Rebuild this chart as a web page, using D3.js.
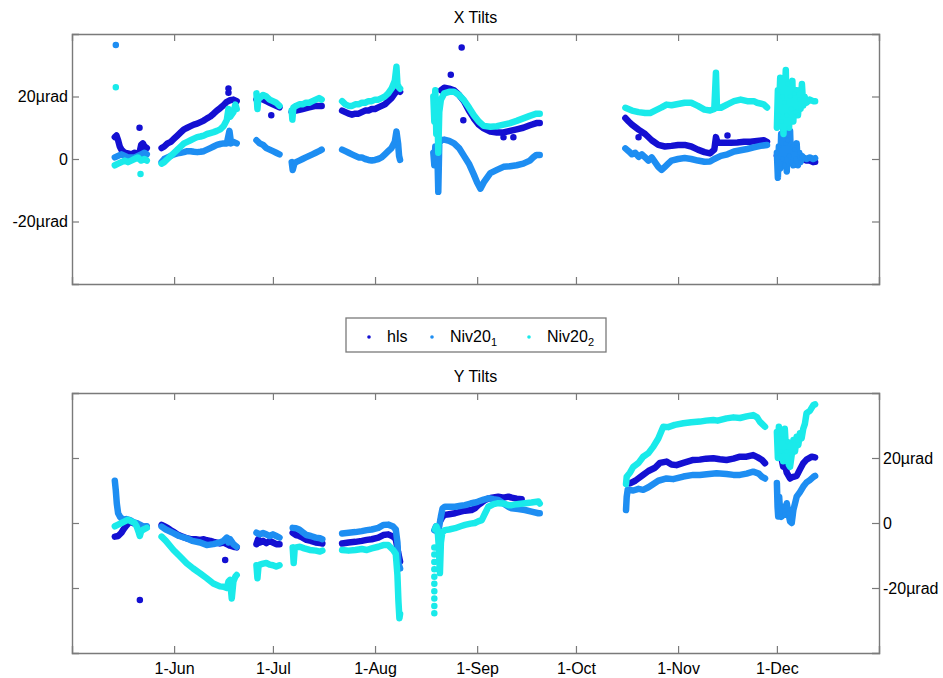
<!DOCTYPE html>
<html>
<head>
<meta charset="utf-8">
<script src="https://cdn.jsdelivr.net/npm/d3@7"></script>
<style>
  body { margin: 0; background: #fff; }
  svg text { font-family: "Liberation Sans", Arial, sans-serif; fill: #000; }
</style>
</head>
<body>
<div id="chart"></div>
<script>
// samples are [days since 1 May, tilt in µrad]; null breaks a run
// ---------- X tilts ----------
let xHls = [
  [13,7],[13.5,7.5],[14,6],[14.5,4],[15,3],[16,2],[17,1.8],[18,1.5],[19,2],[20,1.5],[20.5,2],[21,4.5],[21.5,5],[22,4],[22.7,3.5], null,
  [20.5,10], null,
  [27.2,3.5],[28,4],[29,5],[30,5.5],[31,6.5],[32,7.5],[33,8.5],[34,9.5],[35,10],[36,10.5],[37,11],[38,11.3],[39,11.8],[40,12.3],[41,13],[42,13.6],[43,14.5],[44,15.5],[45,16.3],[46,17.2],[47,18.3],[48,18.8],[49,19],[50,18.5], null,
  [47.5,22.6], null, [47.5,21.2], null,
  [56,19],[57,19.5],[58,19],[59,18.5],[60,18],[61,17.5],[62,17],[63,16.5], null,
  [60.5,14], null,
  [66.7,15],[68,15.5],[70,16],[72,16.5],[74,17],[75.8,17], null,
  [82,15.5],[83,15],[84,14.5],[85,14.2],[86,14.5],[87,14.5],[88,15],[89,15.5],[90,15.5],[91,16],[92,16],[93,16.5],[94,17],[95,17.5],[96,18.5],[97,19.5],[98,21],[99,22],[99.6,21.5], null,
  [112,22],[113,22.8],[114.5,22.5],[116,22],[117.5,20.5],[119,18.5],[120.5,15.5],[122,13],[123.5,11],[125,9.8],[127,8.8],[129,8.5],[131,8.5],[133,9],[135,9.5],[137,10],[139,10.8],[141,11.5],[142,11.5], null,
  [115,27], null, [118.3,35.7], null, [118.8,12.4], null, [131,7], null, [134,7], null,
  [168,13.1],[169,12],[170,11],[172,9.4],[174,8],[176,6],[178,4.5],[180,4],[182,4.2],[184,4.5],[186,4.5],[188,4],[190,3],[192,2.2],[193.7,1.8],[195,3],[195.5,7],[196,5.2],[198,5.2],[200,5.2],[202,5.3],[204,5.5],[206,5.5],[208,5.8],[210,6],[211,5.5], null,
  [172,7], null, [199,7.5], null,
  [214,1],[216,2],[218,1],[220,0],[222,0],[223,-0.5],[224,-0.5],[225,-1],[225.6,-0.9]
];
let xNiv1 = [
  [13,0.5],[14,1],[15,1.5],[16,1],[17,0.5],[18,0.5],[19,0.5],[20,1],[21,1.5],[22,2],[22.7,1.5], null,
  [13.3,36.5], null,
  [27.2,-1],[28,0],[29,0.5],[30,1],[31,1.5],[32,1.8],[33,2],[34,2.2],[35,2.5],[36,2.5],[37,2.3],[38,2.2],[39,2.3],[40,2.5],[41,3],[42,3.5],[43,4],[44,4.5],[45,4.8],[46,5],[47,5],[47.8,9],[48.3,5],[49,5.5],[50,5], null,
  [56,6],[57,5],[58,4.5],[59,3.5],[60,3],[61,2.5],[62,2],[63,1.5], null,
  [66.7,-1],[67,-3.5],[67.5,-1.5],[68,-1],[69,-0.5],[70,0],[71,0.5],[72,1],[73,1.5],[74,2],[75,2.5],[75.8,3], null,
  [82,3],[83,2.5],[84,2],[85,1.5],[86,1],[87,0.5],[88,0.5],[89,0],[90,-0.3],[91,-0.5],[92,-0.3],[93,0],[94,0.5],[95,1.5],[96,2.5],[97,3.5],[98,5.5],[98.5,8.8],[99,5],[99.3,1],[99.6,-0.3], null,
  [109.7,2],[110,-2],[110.3,4],[110.6,-1],[110.9,3],[111.2,-10.5],[111.5,5],[112,6],[113,6.2],[114.5,5.8],[116,5],[117.5,3.5],[119,1],[120.5,-1.5],[122,-5],[123,-7.5],[124,-9.5],[125,-7.5],[127,-4.5],[129,-3.5],[131,-2.5],[133,-2.3],[135,-2],[137,-1.5],[139,-0.5],[140,0.5],[141,1.3],[142,1.3], null,
  [168,3.4],[169,2.5],[170,1.5],[171,2],[172,0.7],[173,1.5],[174,0.5],[175,-0.5],[176,0.5],[177,-1],[178,-2.5],[179,-3.5],[180,-2.5],[181,-1.5],[182,-0.5],[184,0],[186,0.3],[188,0],[190,-0.5],[192,-0.9],[193.7,-0.8],[195,0],[197,1],[199,1.5],[201,2.4],[203,2.8],[205,3.2],[207,3.7],[209,4.2],[211,4.5], null,
  [214,2],[214.3,-6],[214.6,4],[215,-3],[215.3,8],[215.6,0],[216,11],[216.3,-2],[216.7,5],[217,-4],[217.3,6],[217.7,1],[218,9],[218.3,-1],[218.7,4],[219,-2],[219.3,3],[219.7,0],[220,5],[220.4,-2],[220.8,2],[221.2,-1],[221.6,1],[222,0.5],[223,0],[224,0.5],[225,0],[225.6,0.3]
];
let xNiv2 = [
  [13,-2],[14,-1.5],[15,-1],[16,-0.5],[17,-1],[18,-0.5],[19,0],[20,0.5],[21,-0.5],[22,0],[22.7,-0.5], null,
  [13.3,23], null, [20.8,-4.8], null,
  [27.2,-1.5],[28,-1],[29,0],[30,1],[31,2],[32,3],[33,4],[34,5],[35,5.5],[36,6],[37,6.5],[38,7],[39,7.2],[40,7.5],[41,8],[42,8.3],[43,8.6],[44,9],[45,9.5],[46,10.5],[47,12.5],[47.5,16],[48,13.5],[49,15],[49.6,17.4],[50,16], null,
  [56,21],[56.3,16],[56.6,20],[57,19.5],[58,20.5],[59,20],[60,19],[61,18.5],[62,18],[63,17], null,
  [66.7,15.5],[66.9,12.6],[67.2,16.5],[68,17],[69,17.5],[70,17.5],[71,18],[72,18],[73,18.5],[74,19],[75,19.5],[75.8,19], null,
  [82,18.5],[83,17.5],[84,17],[85,17],[86,17.5],[87,17.5],[88,18],[89,18],[90,18.5],[91,18.5],[92,19],[93,19],[94,19.5],[95,20],[96,21],[97,22.5],[98,25],[98.5,29.5],[98.8,24],[99.2,23],[99.6,22.5], null,
  [109.7,20],[110,12],[110.3,22],[110.6,8],[110.9,18],[111.2,2],[111.5,15],[112,19],[113,21],[114.5,21.5],[116,21.5],[117.5,20.5],[119,18.8],[120.5,16.5],[122,14],[123.5,12],[125,10.6],[127,10.3],[129,10.5],[131,11],[133,11.5],[135,12.2],[137,13],[139,13.8],[141,14.5],[142,14.5], null,
  [168,16.4],[170,15.5],[172,15],[174,14.7],[175.5,14.7],[177,15.5],[179,16.5],[180.5,17.4],[182,17.2],[184,17.6],[186,18],[188,18],[190,17],[192,15.8],[193.7,15.5],[195,16],[195.5,27.6],[195.8,16.5],[197,16.4],[199,17.5],[201,18.5],[203,19],[205,18.5],[207,18.5],[208,18],[210,17.5],[211,16.5], null,
  [214,10],[214.3,22],[214.6,14],[215,26],[215.3,12],[215.6,20],[216,8],[216.3,18],[216.7,28.5],[217,14],[217.3,24],[217.7,10],[218,20],[218.3,16],[218.7,25],[219,12],[219.3,21],[219.7,15],[220,22],[220.4,14],[220.8,19],[221.2,16],[221.6,24],[222,17],[222.4,20],[223,18],[224,19],[225,18.5],[225.6,18.5]
];

// ---------- Y tilts ----------
let yHls = [
  [13,-4.2],[14,-4],[15,-3],[15.6,-2],[16.5,-0.8],[17.6,0.5],[18.6,0],[19.6,-0.5],[20.6,-0.8],[21.7,-1.1],[22.7,-1.3], null,
  [20.6,-23.7], null,
  [27.2,-0.6],[28,-1],[29,-1.5],[30,-2.2],[30.8,-2.7],[32,-3.5],[33.5,-4.2],[34.8,-4.7],[36,-5],[37.5,-5],[38.9,-5.2],[40,-5],[40.9,-5.3],[42,-5.5],[43,-5.8],[44.9,-6.3],[46,-6],[47,-6.5],[48,-7],[49,-7.3],[50,-7.5], null,
  [46.5,-11.4], null,
  [56,-6.5],[56.5,-5],[57,-6],[58,-5.5],[59,-6.2],[60,-5.5],[61,-6],[62,-6.5],[63,-6.5], null,
  [67,-3],[68,-3.7],[69,-4],[70,-4.5],[71.2,-5.2],[72.5,-5.5],[74,-6],[75.3,-6.2],[76,-6.3], null,
  [82,-6.3],[84,-6],[86,-5.8],[88,-5.5],[89.5,-5.2],[91,-5],[93,-4.5],[94.5,-3.7],[96,-3.5],[97.5,-4.2],[98.3,-5],[99,-9],[99.6,-11.9], null,
  [112,1],[112.5,2],[113.2,2.5],[114.5,2.7],[116.3,3],[118,3.5],[119.3,3.8],[121.3,4],[122.3,4.5],[123.3,5.5],[124.4,6.3],[125.4,7.1],[126.4,7.5],[127.5,7.8],[129.4,8.1],[131,7.8],[132.5,8.1],[133.5,7.8],[135,7.5],[136.5,7.3], null,
  [169.4,12.2],[171,13],[173.4,14.8],[175,16],[177,17],[178.5,18.5],[180.5,18.9],[182,18],[183.5,17.8],[185.6,18.5],[188.6,19.4],[190.6,19.5],[192.5,19.8],[194.7,19.9],[196.7,19.6],[198.7,19.4],[200.8,19.8],[202.8,20.4],[204.8,20.4],[206.8,20.9],[208.2,20.2],[209.5,19.4],[210.4,18.4], null,
  [215.4,20],[215.9,17.3],[216.4,18],[217,15.5],[218,13.7],[218.5,14],[219,14.2],[220,14.5],[221,16.5],[222,18.4],[223,19.5],[224.6,20.4],[225.6,20.2]
];
let yNiv1 = [
  [13,13],[13.3,10],[13.6,6],[14,3],[14.6,1.9],[15.6,0.9],[16.5,1.2],[17.6,0.9],[18.6,0.3],[19.6,0],[20.6,-0.5],[21.7,-1.1],[22.7,-1], null,
  [27.2,-1.1],[28.5,-2],[30.8,-3.1],[32.5,-4],[34.8,-4.7],[36.5,-5.5],[38.9,-6],[40.9,-6.8],[42.9,-6.5],[44.9,-6],[46,-5.5],[47,-4.5],[47.5,-6],[48,-5],[49,-6.5],[50,-7.3], null,
  [56,-3],[57,-3.5],[58,-3.1],[59,-3.5],[60,-4],[61,-3.5],[62,-4],[63,-4.5], null,
  [67,-1.5],[68,-1.6],[69,-2],[70,-2.8],[71.2,-3.7],[72.5,-4],[74,-4.5],[75.3,-4.7],[76,-5], null,
  [82,-3.2],[84,-3],[86,-2.8],[88,-2.5],[89.5,-2.2],[91,-2],[93,-1.5],[94.5,-0.6],[96,-0.5],[97.5,-1.1],[98.3,-2],[98.8,-6],[99.1,-12.4],[99.6,-14], null,
  [110,-2.2],[110.5,-1],[111,-3],[111.5,-1],[112,2],[112.5,4.5],[113.2,5],[114.5,5],[116.3,5],[118,5.3],[119.3,5.5],[121,6],[122.3,6.3],[123.3,6.6],[125,7.2],[126.4,7.6],[128,7.3],[129.4,7.1],[131,6],[132.5,5],[133.5,4.5],[135.5,4.3],[137.5,4],[139.5,3.5],[141.6,3],[142,3], null,
  [168.2,4],[168.4,8],[168.7,10.2],[170.4,10],[172,10.5],[173.4,10.2],[175,11],[176.5,12],[178,13],[180.5,13.7],[182.5,13.5],[185.6,14.3],[188.6,14.8],[190.6,14.8],[192.7,15],[195.7,15.3],[198.7,15.1],[200.8,14.8],[202.8,14.8],[204.8,15.2],[206.8,15.8],[208.5,15.2],[209.5,14.2],[210.4,13.7], null,
  [214,12.3],[214.2,5],[214.4,2],[214.7,8],[215,3],[215.4,1.9],[215.9,5],[216.4,2.5],[217,6.1],[217.5,3],[218,0.5],[218.5,0],[219,4],[219.5,6],[220,8.1],[221,9.5],[222,11.2],[223,12.5],[224,13.2],[225.1,14.2],[225.6,14.5]
];
let yNiv2 = [
  [13,-1],[14,-0.5],[15,0],[16,0.5],[17,1],[18,0.5],[19,0],[19.6,-1],[20.3,-3],[20.6,-4],[21,-2.5],[21.7,-2],[22.7,-1.5], null,
  [27.2,-4.2],[28.5,-5.5],[30.8,-8.3],[32.5,-10],[34.8,-12.4],[36.8,-14],[38.9,-15.5],[40.9,-17],[42.9,-18.6],[44.9,-19.5],[46,-19.6],[47,-20],[47.5,-18],[48,-17.5],[48.5,-23.2],[49,-18],[49.6,-16.5],[50,-16], null,
  [56,-13],[56.3,-17],[56.6,-13.5],[57,-12.8],[58,-12.5],[59,-12.3],[60,-12.8],[61,-13],[62,-13.4],[63,-13], null,
  [67,-7.5],[67.3,-12.3],[67.6,-8],[68,-7.5],[69.2,-7.3],[70.5,-7.8],[72.2,-8.3],[74,-8.5],[75.3,-8.8],[76,-8.5], null,
  [82,-8.3],[84,-8.5],[86,-8.3],[88,-8],[89.5,-8.3],[91,-7.8],[93,-7.3],[94.5,-6.8],[96,-6.8],[97.5,-8.3],[98.3,-9.5],[98.8,-16],[99.1,-24],[99.4,-29.3],[99.6,-28], null,
  [110,-27.8], null, [110,-25.5], null, [110,-23.2], null, [110,-21], null, [110,-18.7], null, [110,-16.5], null,
  [110,-14.2], null, [110,-12], null, [110,-9.7], null, [110,-7.5], null,
  [110.2,-2],[110.6,-1],[111,-2],[111.4,-8],[111.7,-15.4],[112,-6],[112.4,-3],[113.2,-2.2],[114.5,-2],[116.3,-1.6],[118,-1],[119.3,-0.6],[121,-0.2],[122.3,0],[123.3,0.5],[124.4,0.9],[125.4,3],[126.4,5],[128,5.8],[129.4,6.1],[131,6],[132.5,5.5],[133.5,5.5],[135,5.8],[137.5,6.1],[139.5,6.3],[141.6,6.6],[142,6], null,
  [168.2,12],[168.4,14.2],[169.4,15.5],[170.4,17.3],[172,18.5],[173.4,20.4],[175,21.5],[176.5,23.5],[178,26],[179.5,29.6],[181,29.5],[183,30.2],[185.6,30.7],[188,31],[190.6,31.2],[192.5,31.5],[194.7,31.7],[196,31.5],[198.7,32.2],[200.8,32.5],[202.8,32.3],[204.8,32.8],[206.8,33.2],[208,32.5],[208.8,31.2],[209.5,30.5],[210.4,29.6], null,
  [214,28],[214.3,20],[214.6,29.6],[215,22],[215.4,26],[215.9,19],[216.4,29],[216.8,22],[217.2,25],[217.6,18],[218,17.3],[218.5,21],[219,25.5],[219.5,22],[220,26.5],[220.5,24],[221,27.6],[221.5,26],[222,29],[222.5,30.5],[223,33.8],[224,34.5],[224.6,35.5],[225.1,36.3],[225.6,36.5]
];

let seriesNames = ["hls", "Niv20", "Niv20"];
let seriesSubs = ["", "1", "2"];
let seriesColors = ["#1410d2", "#1e8ef2", "#1aeaea"];
let tiltTicks = [-20, 0, 20];
let tiltLabels = ["-20µrad", "0", "20µrad"];

let width = 943, height = 678;
let margin = {left: 72, right: 879};
let panels = [
  {title: "X Tilts", top: 34, bottom: 284, data: [xHls, xNiv1, xNiv2], labelSide: "left", dates: false},
  {title: "Y Tilts", top: 393, bottom: 653, data: [yHls, yNiv1, yNiv2], labelSide: "right", dates: true}
];

let start = Date.UTC(2007, 4, 1);
let toDate = d => new Date(start + d * 864e5);

let x = d3.scaleUtc()
    .domain([new Date(Date.UTC(2007, 4, 1)), new Date(Date.UTC(2008, 0, 1))])
    .range([margin.left, margin.right]);
let monthTicks = d3.utcMonth.range(new Date(Date.UTC(2007, 5, 1)), new Date(Date.UTC(2008, 0, 1)));

let svg = d3.select("#chart")
    .append("svg")
    .attr("width", width)
    .attr("height", height);

panels.forEach(function(p) {
    let y = d3.scaleLinear().domain([-40, 40]).range([p.bottom, p.top]);
    let g = svg.append("g");

    //title
    g.append("text")
        .attr("x", (margin.left + margin.right) / 2)
        .attr("y", p.top - 11)
        .attr("text-anchor", "middle")
        .style("font-size", "16px")
        .text(p.title);

    //data, later series on top
    p.data.forEach(function(s, i) {
        g.append("path")
            .datum(s)
            .attr("fill", "none")
            .attr("stroke", seriesColors[i])
            .attr("stroke-width", 6.5)
            .attr("stroke-linejoin", "round")
            .attr("stroke-linecap", "round")
            .attr("d", d3.line().defined(d => d !== null)
                .x(d => x(toDate(d[0])))
                .y(d => y(d[1])));
        g.append("g").selectAll("circle")
            .data(s.filter(d => d !== null))
            .enter()
            .append("circle")
            .attr("cx", d => x(toDate(d[0])))
            .attr("cy", d => y(d[1]))
            .attr("r", 2.4)
            .attr("fill", seriesColors[i]);
    });

    //axes: inward ticks on all four sides
    let axisColor = "#7a7a7a";
    let xb = g.append("g").attr("transform", `translate(0,${p.bottom})`)
        .call(d3.axisBottom(x).tickValues(monthTicks).tickSize(-7).tickPadding(10)
            .tickFormat(p.dates ? d3.utcFormat("%-d-%b") : ""));
    let xt = g.append("g").attr("transform", `translate(0,${p.top})`)
        .call(d3.axisTop(x).tickValues(monthTicks).tickSize(-7).tickFormat(""));
    let yl = g.append("g").attr("transform", `translate(${margin.left},0)`)
        .call(d3.axisLeft(y).tickValues(tiltTicks).tickSize(-7).tickPadding(4)
            .tickFormat(p.labelSide === "left" ? (d, i) => tiltLabels[i] : ""));
    let yr = g.append("g").attr("transform", `translate(${margin.right},0)`)
        .call(d3.axisRight(y).tickValues(tiltTicks).tickSize(-7).tickPadding(4)
            .tickFormat(p.labelSide === "right" ? (d, i) => tiltLabels[i] : ""));
    [xb, xt, yl, yr].forEach(function(a) {
        a.select(".domain").attr("stroke", axisColor).attr("stroke-width", 1.4);
        a.selectAll(".tick line").attr("stroke", axisColor).attr("stroke-width", 1.2);
        a.selectAll("text").style("font-size", "16px")
            .style("font-family", "'Liberation Sans', Arial, sans-serif").attr("fill", "#000");
    });
});

//legend
let legend = svg.append("g");
legend.append("rect")
    .attr("x", 346).attr("y", 318).attr("width", 260).attr("height", 34)
    .attr("fill", "#fff").attr("stroke", "#7a7a7a").attr("stroke-width", 1.3);
let legendX = [369, 432, 529];
seriesNames.forEach(function(n, i) {
    legend.append("circle")
        .attr("cx", legendX[i]).attr("cy", 337).attr("r", 1.8)
        .attr("fill", seriesColors[i]);
    let t = legend.append("text")
        .attr("x", legendX[i] + 18).attr("y", 342)
        .style("font-size", "16px")
        .text(n);
    if (seriesSubs[i]) {
        t.append("tspan").attr("dy", 4).style("font-size", "11px").text(seriesSubs[i]);
    }
});
</script>
</body>
</html>
